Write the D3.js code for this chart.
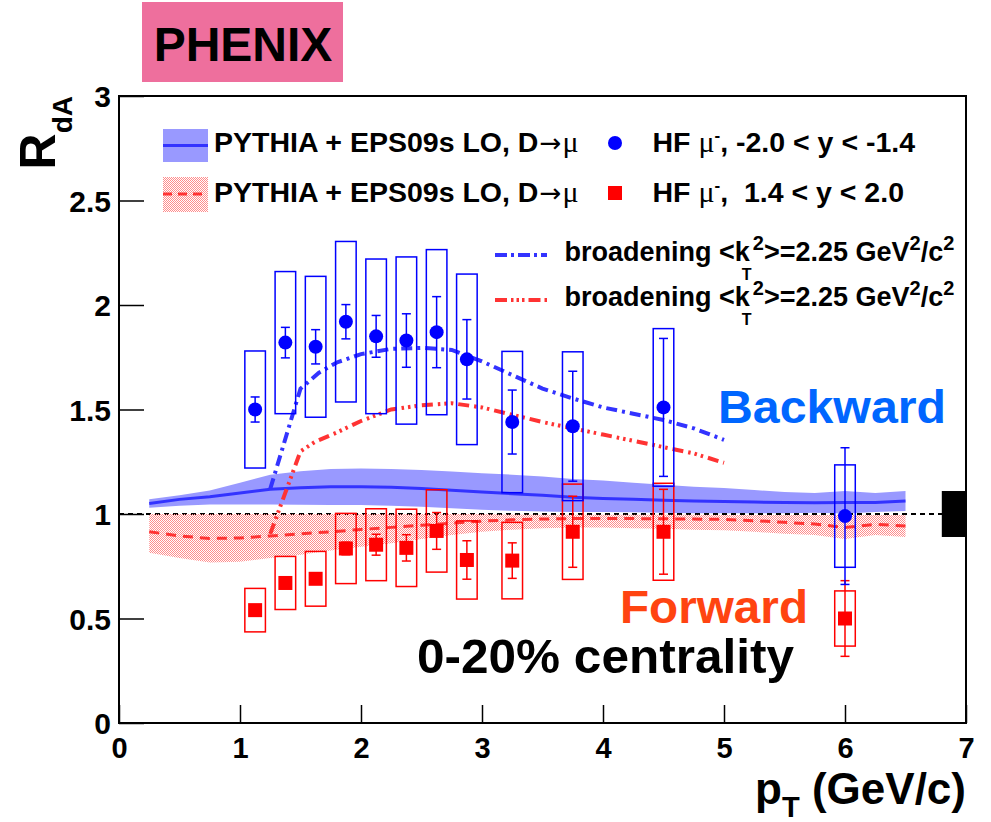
<!DOCTYPE html>
<html>
<head>
<meta charset="utf-8">
<script src="https://cdn.jsdelivr.net/npm/d3@7"></script>
<style>
  html, body { margin: 0; padding: 0; background: #fff; }
  svg { display: block; }
  text { font-family: "Liberation Sans", Arial, Helvetica, sans-serif; font-weight: bold; white-space: pre; }
</style>
</head>
<body>
<svg id="chart" width="991" height="822"></svg>
<script>
// ---------- measured points: HF muons, backward (-2.0 < y < -1.4) ----------
const ptBack   = [1.125, 1.375, 1.625, 1.875, 2.125, 2.375, 2.625, 2.875, 3.25, 3.75, 4.5, 6.0];
const rdaBack  = [1.50, 1.82, 1.80, 1.92, 1.85, 1.83, 1.87, 1.74, 1.44, 1.42, 1.51, 0.99];
const statBack = [0.060, 0.073, 0.082, 0.082, 0.100, 0.128, 0.170, 0.190, 0.153, 0.263, 0.330, 0.327];
const sysBack  = [0.280, 0.340, 0.337, 0.384, 0.370, 0.400, 0.395, 0.408, 0.338, 0.356, 0.377, 0.245];

// ---------- measured points: HF muons, forward (1.4 < y < 2.0) ----------
const ptFwd   = [1.125, 1.375, 1.625, 1.875, 2.125, 2.375, 2.625, 2.875, 3.25, 3.75, 4.5, 6.0];
const rdaFwd  = [0.54, 0.67, 0.69, 0.835, 0.853, 0.838, 0.919, 0.78, 0.777, 0.915, 0.915, 0.50];
const statFwd = [0.015, 0.020, 0.025, 0.030, 0.050, 0.063, 0.088, 0.092, 0.085, 0.170, 0.203, 0.181];
const sysFwd  = [0.104, 0.127, 0.131, 0.168, 0.172, 0.185, 0.197, 0.187, 0.183, 0.228, 0.232, 0.132];

// ---------- PYTHIA + EPS09s LO bands ----------
const bandPt = [0.25, 0.5, 0.75, 1.0, 1.25, 1.5, 1.75, 2.0, 2.25, 2.5, 2.75, 3.0, 3.25, 3.5,
                3.75, 4.0, 4.25, 4.5, 4.75, 5.0, 5.25, 5.5, 5.75, 6.0, 6.25, 6.5];
const backMid = [1.050, 1.070, 1.082, 1.100, 1.118, 1.126, 1.130, 1.130, 1.128, 1.122, 1.114, 1.105, 1.097,
                 1.090, 1.080, 1.074, 1.070, 1.066, 1.062, 1.060, 1.057, 1.055, 1.054, 1.055, 1.055, 1.062];
const backHi  = [1.070, 1.090, 1.112, 1.150, 1.188, 1.205, 1.215, 1.218, 1.215, 1.210, 1.203, 1.195, 1.188,
                 1.180, 1.168, 1.160, 1.150, 1.140, 1.130, 1.125, 1.115, 1.105, 1.100, 1.110, 1.100, 1.110];
const backLo  = [1.030, 1.040, 1.045, 1.045, 1.045, 1.044, 1.043, 1.043, 1.040, 1.035, 1.027, 1.020, 1.015,
                 1.012, 1.010, 1.010, 1.008, 1.006, 1.004, 1.003, 1.003, 1.004, 1.006, 1.002, 1.010, 1.014];
const fwdMid  = [0.915, 0.895, 0.883, 0.885, 0.895, 0.905, 0.915, 0.926, 0.936, 0.946, 0.956, 0.966, 0.972,
                 0.976, 0.978, 0.978, 0.978, 0.977, 0.976, 0.974, 0.968, 0.960, 0.952, 0.935, 0.950, 0.943];
const fwdHi   = [1.000, 1.000, 1.000, 1.000, 1.000, 1.000, 1.000, 1.000, 1.000, 1.000, 1.000, 1.000, 0.998,
                 0.997, 0.996, 0.996, 0.996, 0.996, 0.996, 0.995, 0.995, 0.995, 0.995, 0.995, 0.995, 0.995];
const fwdLo   = [0.815, 0.790, 0.768, 0.772, 0.790, 0.805, 0.825, 0.843, 0.860, 0.880, 0.900, 0.915, 0.925,
                 0.932, 0.935, 0.935, 0.932, 0.930, 0.925, 0.922, 0.915, 0.905, 0.900, 0.880, 0.900, 0.890];

// ---------- kT broadening curves ----------
const broadBackPt = [1.25, 1.50, 1.65, 1.80, 2.0, 2.25, 2.5, 2.75, 3.0, 3.25, 3.5, 3.75, 4.0, 4.25, 4.5, 4.75, 5.0];
const broadBackR  = [1.12, 1.60, 1.675, 1.725, 1.765, 1.79, 1.795, 1.785, 1.73, 1.665, 1.60, 1.553, 1.51, 1.48, 1.45, 1.41, 1.355];
const broadFwdPt  = [1.25, 1.50, 1.62, 1.80, 2.0, 2.25, 2.5, 2.75, 3.0, 3.25, 3.5, 3.75, 4.0, 4.25, 4.5, 4.75, 5.0];
const broadFwdR   = [0.905, 1.30, 1.345, 1.39, 1.445, 1.50, 1.52, 1.53, 1.51, 1.475, 1.44, 1.41, 1.38, 1.35, 1.32, 1.29, 1.245];

// global normalisation uncertainty, drawn at the right edge
const normUnc = 0.11;
const normPt = [6.8, 7.0];

// axis ticks
const xMajor = [0, 1, 2, 3, 4, 5, 6, 7];
const yMajor = [0, 0.5, 1, 1.5, 2, 2.5, 3];
const xLabels = ["0", "1", "2", "3", "4", "5", "6", "7"];
const yLabels = ["0", "0.5", "1", "1.5", "2", "2.5", "3"];

// ---------- layout ----------
const svg = d3.select("#chart");
const x = d3.scaleLinear().domain([0, 7]).range([119, 966]);
const y = d3.scaleLinear().domain([0, 3]).range([723, 96]);

const BLUE = "#0000ff", RED = "#ff0000";
const BAND_BLUE = "#9999ff", LINE_BLUE = "#3333ff", LINE_RED = "#ff3333";
const SERIF = '"Liberation Serif", "DejaVu Serif", serif';
const ARROW = '"DejaVu Sans", sans-serif';

const defs = svg.append("defs");
const hatch = defs.append("pattern").attr("id", "hatch")
  .attr("patternUnits", "userSpaceOnUse").attr("width", 2).attr("height", 2);
hatch.append("rect").attr("width", 1).attr("height", 1).attr("fill", "#ff8c8c");
hatch.append("rect").attr("x", 1).attr("y", 1).attr("width", 1).attr("height", 1).attr("fill", "#ff8c8c");
defs.append("clipPath").attr("id", "plotClip").append("rect")
  .attr("x", x(0)).attr("y", y(3)).attr("width", x(7) - x(0)).attr("height", y(0) - y(3));

// experiment tag
svg.append("rect").attr("x", 142).attr("y", 2).attr("width", 201).attr("height", 80).attr("fill", "#ee6f9d");
svg.append("text").attr("x", 243).attr("y", 61).attr("text-anchor", "middle")
  .style("font-size", "48px").attr("fill", "#000").text("PHENIX");

const plot = svg.append("g").attr("clip-path", "url(#plotClip)");

// theory bands
const backBand = bandPt.map((p, i) => ({ pt: p, mid: backMid[i], lo: backLo[i], hi: backHi[i] }));
const fwdBand  = bandPt.map((p, i) => ({ pt: p, mid: fwdMid[i], lo: fwdLo[i], hi: fwdHi[i] }));
const area = d3.area().x(d => x(d.pt)).y0(d => y(d.lo)).y1(d => y(d.hi));
const mid = d3.line().x(d => x(d.pt)).y(d => y(d.mid));

plot.append("path").attr("d", area(backBand)).attr("fill", BAND_BLUE);

// unity reference
plot.append("line").attr("x1", x(0)).attr("x2", x(7)).attr("y1", y(1)).attr("y2", y(1))
  .attr("stroke", "#000").attr("stroke-width", 2).attr("stroke-dasharray", "5,4");

plot.append("path").attr("d", area(fwdBand)).attr("fill", "url(#hatch)");
plot.append("path").attr("d", mid(backBand)).attr("fill", "none").attr("stroke", LINE_BLUE).attr("stroke-width", 3);
plot.append("path").attr("d", mid(fwdBand)).attr("fill", "none").attr("stroke", LINE_RED)
  .attr("stroke-width", 3).attr("stroke-dasharray", "10,7");

// broadening curves
const bLine = d3.line().x(d => x(d[0])).y(d => y(d[1]));
plot.append("path").attr("d", bLine(d3.zip(broadBackPt, broadBackR))).attr("fill", "none")
  .attr("stroke", LINE_BLUE).attr("stroke-width", 4).attr("stroke-dasharray", "11,5,3,5");
plot.append("path").attr("d", bLine(d3.zip(broadFwdPt, broadFwdR))).attr("fill", "none")
  .attr("stroke", LINE_RED).attr("stroke-width", 4).attr("stroke-dasharray", "11,5,2.5,4,2.5,4,2.5,5");

// normalisation box
plot.append("rect").attr("x", x(normPt[0])).attr("width", x(normPt[1]) - x(normPt[0]))
  .attr("y", y(1 + normUnc)).attr("height", y(1 - normUnc) - y(1 + normUnc)).attr("fill", "#000");

// data: systematic boxes, statistical bars, markers
const boxHalf = 0.085, capHalf = 4.5;
function drawSeries(pts, vals, stat, sys, color, shape) {
  const data = pts.map((p, i) => ({ pt: p, v: vals[i], st: stat[i], sy: sys[i] }));
  const g = plot.append("g");
  g.selectAll("rect.sys").data(data).join("rect").attr("class", "sys")
    .attr("x", d => x(d.pt - boxHalf)).attr("width", d => x(d.pt + boxHalf) - x(d.pt - boxHalf))
    .attr("y", d => y(d.v + d.sy)).attr("height", d => y(d.v - d.sy) - y(d.v + d.sy))
    .attr("fill", "none").attr("stroke", color).attr("stroke-width", 1.5);
  g.selectAll("line.bar").data(data).join("line").attr("class", "bar")
    .attr("x1", d => x(d.pt)).attr("x2", d => x(d.pt))
    .attr("y1", d => y(d.v - d.st)).attr("y2", d => y(d.v + d.st))
    .attr("stroke", color).attr("stroke-width", 1.5);
  ["u", "d"].forEach(s => {
    const end = d => (s === "u" ? d.v + d.st : d.v - d.st);
    g.selectAll("line.cap" + s).data(data).join("line").attr("class", "cap" + s)
      .attr("x1", d => x(d.pt) - capHalf).attr("x2", d => x(d.pt) + capHalf)
      .attr("y1", d => y(end(d))).attr("y2", d => y(end(d)))
      .attr("stroke", color).attr("stroke-width", 1.5);
  });
  if (shape === "circle") {
    g.selectAll("circle").data(data).join("circle")
      .attr("cx", d => x(d.pt)).attr("cy", d => y(d.v)).attr("r", 7).attr("fill", color);
  } else {
    g.selectAll("rect.mk").data(data).join("rect").attr("class", "mk")
      .attr("x", d => x(d.pt) - 7).attr("y", d => y(d.v) - 7).attr("width", 14).attr("height", 14)
      .attr("fill", color);
  }
}
drawSeries(ptFwd, rdaFwd, statFwd, sysFwd, RED, "square");
drawSeries(ptBack, rdaBack, statBack, sysBack, BLUE, "circle");

// ---------- axes ----------
const xMinor = d3.range(0, 7.001, 0.2).map(v => +v.toFixed(2));
const yMinor = d3.range(0, 3.001, 0.1).map(v => +v.toFixed(2));

const gx = svg.append("g").attr("transform", `translate(0,${y(0)})`);
gx.call(d3.axisBottom(x).tickValues(xMinor).tickSize(-8).tickFormat(""));
gx.call(d3.axisBottom(x).tickValues(xMajor).tickSize(-18).tickPadding(14)
  .tickFormat((d, i) => xLabels[i]));
gx.selectAll(".domain").remove();
gx.selectAll("line").attr("stroke", "#000").attr("stroke-width", 1.5);
gx.selectAll("text").style("font-size", "29px").style("font-family", null).attr("fill", "#000");

const gy = svg.append("g").attr("transform", `translate(${x(0)},0)`);
gy.call(d3.axisLeft(y).tickValues(yMinor).tickSize(-13).tickFormat(""));
gy.call(d3.axisLeft(y).tickValues(yMajor).tickSize(-25).tickPadding(8)
  .tickFormat((d, i) => yLabels[i]));
gy.selectAll(".domain").remove();
gy.selectAll("line").attr("stroke", "#000").attr("stroke-width", 1.5);
gy.selectAll("text").style("font-size", "30px").style("font-family", null).attr("fill", "#000").attr("dy", "0.36em");

// frame
svg.append("rect").attr("x", x(0)).attr("y", y(3)).attr("width", x(7) - x(0)).attr("height", y(0) - y(3))
  .attr("fill", "none").attr("stroke", "#000").attr("stroke-width", 2);

// ---------- text helper: consecutive runs with sub/superscripts ----------
function runs(parent, x0, y0, parts) {
  const g = parent.append("g");
  let cx = x0;
  parts.forEach(p => {
    const t = g.append("text").attr("x", cx + (p.dx || 0)).attr("y", y0 + (p.dy || 0))
      .style("font-size", p.size + "px").attr("fill", p.fill || "#000").text(p.t);
    if (p.family) t.style("font-family", p.family).style("font-weight", "normal");
    if (p.len) t.attr("textLength", p.len).attr("lengthAdjust", "spacingAndGlyphs");
    const w = p.len || t.node().getComputedTextLength();
    if (p.adv !== false) cx += w + (p.dx || 0);
  });
  return { g, width: cx - x0 };
}

// axis titles
const xt = runs(svg, 0, 804, [
  { t: "p", size: 44 },
  { t: "T", size: 29, dy: 13 },
  { t: " (GeV/c)", size: 44 }
]);
xt.g.attr("transform", `translate(${966 - xt.width},0)`);

svg.append("text").attr("transform", `translate(55,${y(3)}) rotate(-90)`).attr("text-anchor", "end")
  .call(t => {
    t.append("tspan").style("font-size", "50px").text("R");
    t.append("tspan").style("font-size", "28px").attr("dy", 17).text("dA");
  });

// ---------- legend ----------
const leg = svg.append("g");
leg.append("rect").attr("x", 163).attr("y", 129).attr("width", 45).attr("height", 33).attr("fill", BAND_BLUE);
leg.append("line").attr("x1", 163).attr("x2", 208).attr("y1", 145.5).attr("y2", 145.5)
  .attr("stroke", LINE_BLUE).attr("stroke-width", 3);
leg.append("rect").attr("x", 163).attr("y", 177).attr("width", 45).attr("height", 35).attr("fill", "url(#hatch)");
leg.append("line").attr("x1", 163).attr("x2", 208).attr("y1", 194).attr("y2", 194)
  .attr("stroke", LINE_RED).attr("stroke-width", 3).attr("stroke-dasharray", "9,6");

const pythia = [
  { t: "PYTHIA + EPS09s LO, D", size: 28.5 },
  { t: "\u2192", size: 26, family: ARROW, dx: 1, len: 22 },
  { t: "\u03bc", size: 30, family: SERIF, dx: 1 }
];
runs(leg, 214, 152, pythia);
runs(leg, 214, 201.5, pythia);

leg.append("circle").attr("cx", 615).attr("cy", 143).attr("r", 7).attr("fill", BLUE);
leg.append("rect").attr("x", 608).attr("y", 186).attr("width", 14).attr("height", 14).attr("fill", RED);

runs(leg, 652.5, 152, [
  { t: "HF ", size: 28.5 },
  { t: "\u03bc", size: 30, family: SERIF },
  { t: "-", size: 17, dy: -11 },
  { t: ", -2.0 < y < -1.4", size: 28.5 }
]);
runs(leg, 652.5, 201.5, [
  { t: "HF ", size: 28.5 },
  { t: "\u03bc", size: 30, family: SERIF },
  { t: "-", size: 17, dy: -11 },
  { t: ",  1.4 < y < 2.0", size: 28.5 }
]);

leg.append("line").attr("x1", 495).attr("x2", 547).attr("y1", 255).attr("y2", 255)
  .attr("stroke", LINE_BLUE).attr("stroke-width", 4).attr("stroke-dasharray", "12,4,3,4");
leg.append("line").attr("x1", 495).attr("x2", 547).attr("y1", 300).attr("y2", 300)
  .attr("stroke", LINE_RED).attr("stroke-width", 4).attr("stroke-dasharray", "12,4,2.5,3,2.5,3,2.5,4");

const broad = [
  { t: "broadening <k", size: 27 },
  { t: "T", size: 16, dx: -8, dy: 19, adv: false },
  { t: "2", size: 20, dx: 3, dy: -11 },
  { t: ">=2.25 GeV", size: 27 },
  { t: "2", size: 20, dy: -11 },
  { t: "/c", size: 27 },
  { t: "2", size: 20, dy: -11 }
];
runs(leg, 564.5, 260.5, broad);
runs(leg, 564.5, 306, broad);

// ---------- annotations ----------
svg.append("text").attr("x", 718).attr("y", 422.5).style("font-size", "47px").attr("fill", "#0066ff")
  .attr("textLength", 228).attr("lengthAdjust", "spacingAndGlyphs").text("Backward");
svg.append("text").attr("x", 620).attr("y", 622.5).style("font-size", "47px").attr("fill", "#ff4411")
  .attr("textLength", 188).attr("lengthAdjust", "spacingAndGlyphs").text("Forward");
svg.append("text").attr("x", 417).attr("y", 673).style("font-size", "48px").attr("fill", "#000")
  .attr("textLength", 377).attr("lengthAdjust", "spacingAndGlyphs").text("0-20% centrality");
</script>
</body>
</html>
